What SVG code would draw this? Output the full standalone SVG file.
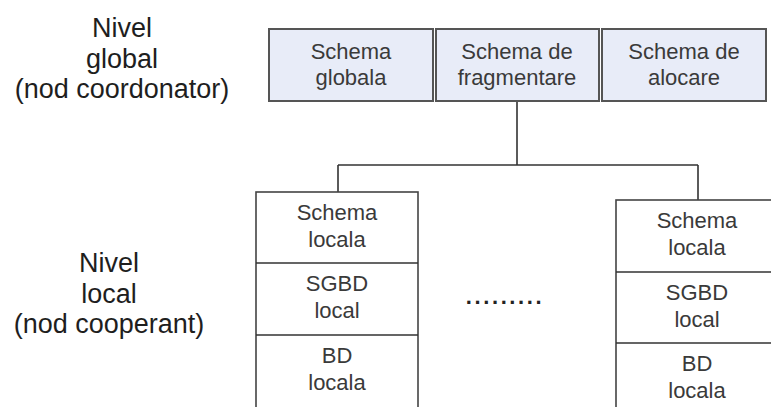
<svg xmlns="http://www.w3.org/2000/svg" width="771" height="407" viewBox="0 0 771 407">
  <style>
    .lvl { font-family: "Liberation Sans", Arial, sans-serif; font-size: 27px; fill: #1e1e1e; text-anchor: middle; }
    .txt { font-family: "Liberation Sans", Arial, sans-serif; font-size: 22px; fill: #3a3a3a; text-anchor: middle; }
    .top { fill: #e8ecf8; stroke: #555; stroke-width: 2; }
    .loc { fill: #fff; stroke: #444; stroke-width: 1.6; }
    .wire { fill: none; stroke: #333; stroke-width: 1.6; }
  </style>
  <rect width="771" height="407" fill="#fff"/>

  <!-- level labels -->
  <g id="label-global">
    <text class="lvl" x="122" y="37">Nivel</text>
    <text class="lvl" x="122" y="68">global</text>
    <text class="lvl" x="122" y="98">(nod coordonator)</text>
  </g>
  <g id="label-local">
    <text class="lvl" x="109" y="272">Nivel</text>
    <text class="lvl" x="109" y="303">local</text>
    <text class="lvl" x="109" y="333">(nod cooperant)</text>
  </g>

  <!-- connectors -->
  <g id="connectors">
    <path class="wire" d="M517 101 V165 M338 165 H698 M338 165 V192 M698 165 V200"/>
  </g>

  <!-- coordinator schemas -->
  <g id="schema-globala">
    <rect class="top" x="269" y="29" width="164" height="72"/>
    <text class="txt" x="351" y="59">Schema</text>
    <text class="txt" x="351" y="85">globala</text>
  </g>
  <g id="schema-fragmentare">
    <rect class="top" x="436" y="29" width="163" height="72"/>
    <text class="txt" x="517" y="59">Schema de</text>
    <text class="txt" x="517" y="85">fragmentare</text>
  </g>
  <g id="schema-alocare">
    <rect class="top" x="602" y="29" width="164" height="72"/>
    <text class="txt" x="684" y="59">Schema de</text>
    <text class="txt" x="684" y="85">alocare</text>
  </g>

  <!-- cooperating node 1 -->
  <g id="nod-local-1">
    <rect class="loc" x="256" y="192" width="162" height="225"/>
    <path class="wire" d="M256 263 H418 M256 335 H418"/>
    <text class="txt" x="337" y="220">Schema</text>
    <text class="txt" x="337" y="247">locala</text>
    <text class="txt" x="337" y="291">SGBD</text>
    <text class="txt" x="337" y="318">local</text>
    <text class="txt" x="337" y="363">BD</text>
    <text class="txt" x="337" y="390">locala</text>
  </g>

  <!-- ellipsis between nodes -->
  <g id="ellipsis">
    <text class="txt" x="505" y="304" style="font-weight:bold;letter-spacing:2.6px;fill:#222">.........</text>
  </g>

  <!-- cooperating node n -->
  <g id="nod-local-n">
    <rect class="loc" x="616" y="200" width="162" height="225"/>
    <path class="wire" d="M616 272 H778 M616 343 H778"/>
    <text class="txt" x="697" y="228">Schema</text>
    <text class="txt" x="697" y="255">locala</text>
    <text class="txt" x="697" y="300">SGBD</text>
    <text class="txt" x="697" y="327">local</text>
    <text class="txt" x="697" y="371">BD</text>
    <text class="txt" x="697" y="398">locala</text>
  </g>
</svg>
